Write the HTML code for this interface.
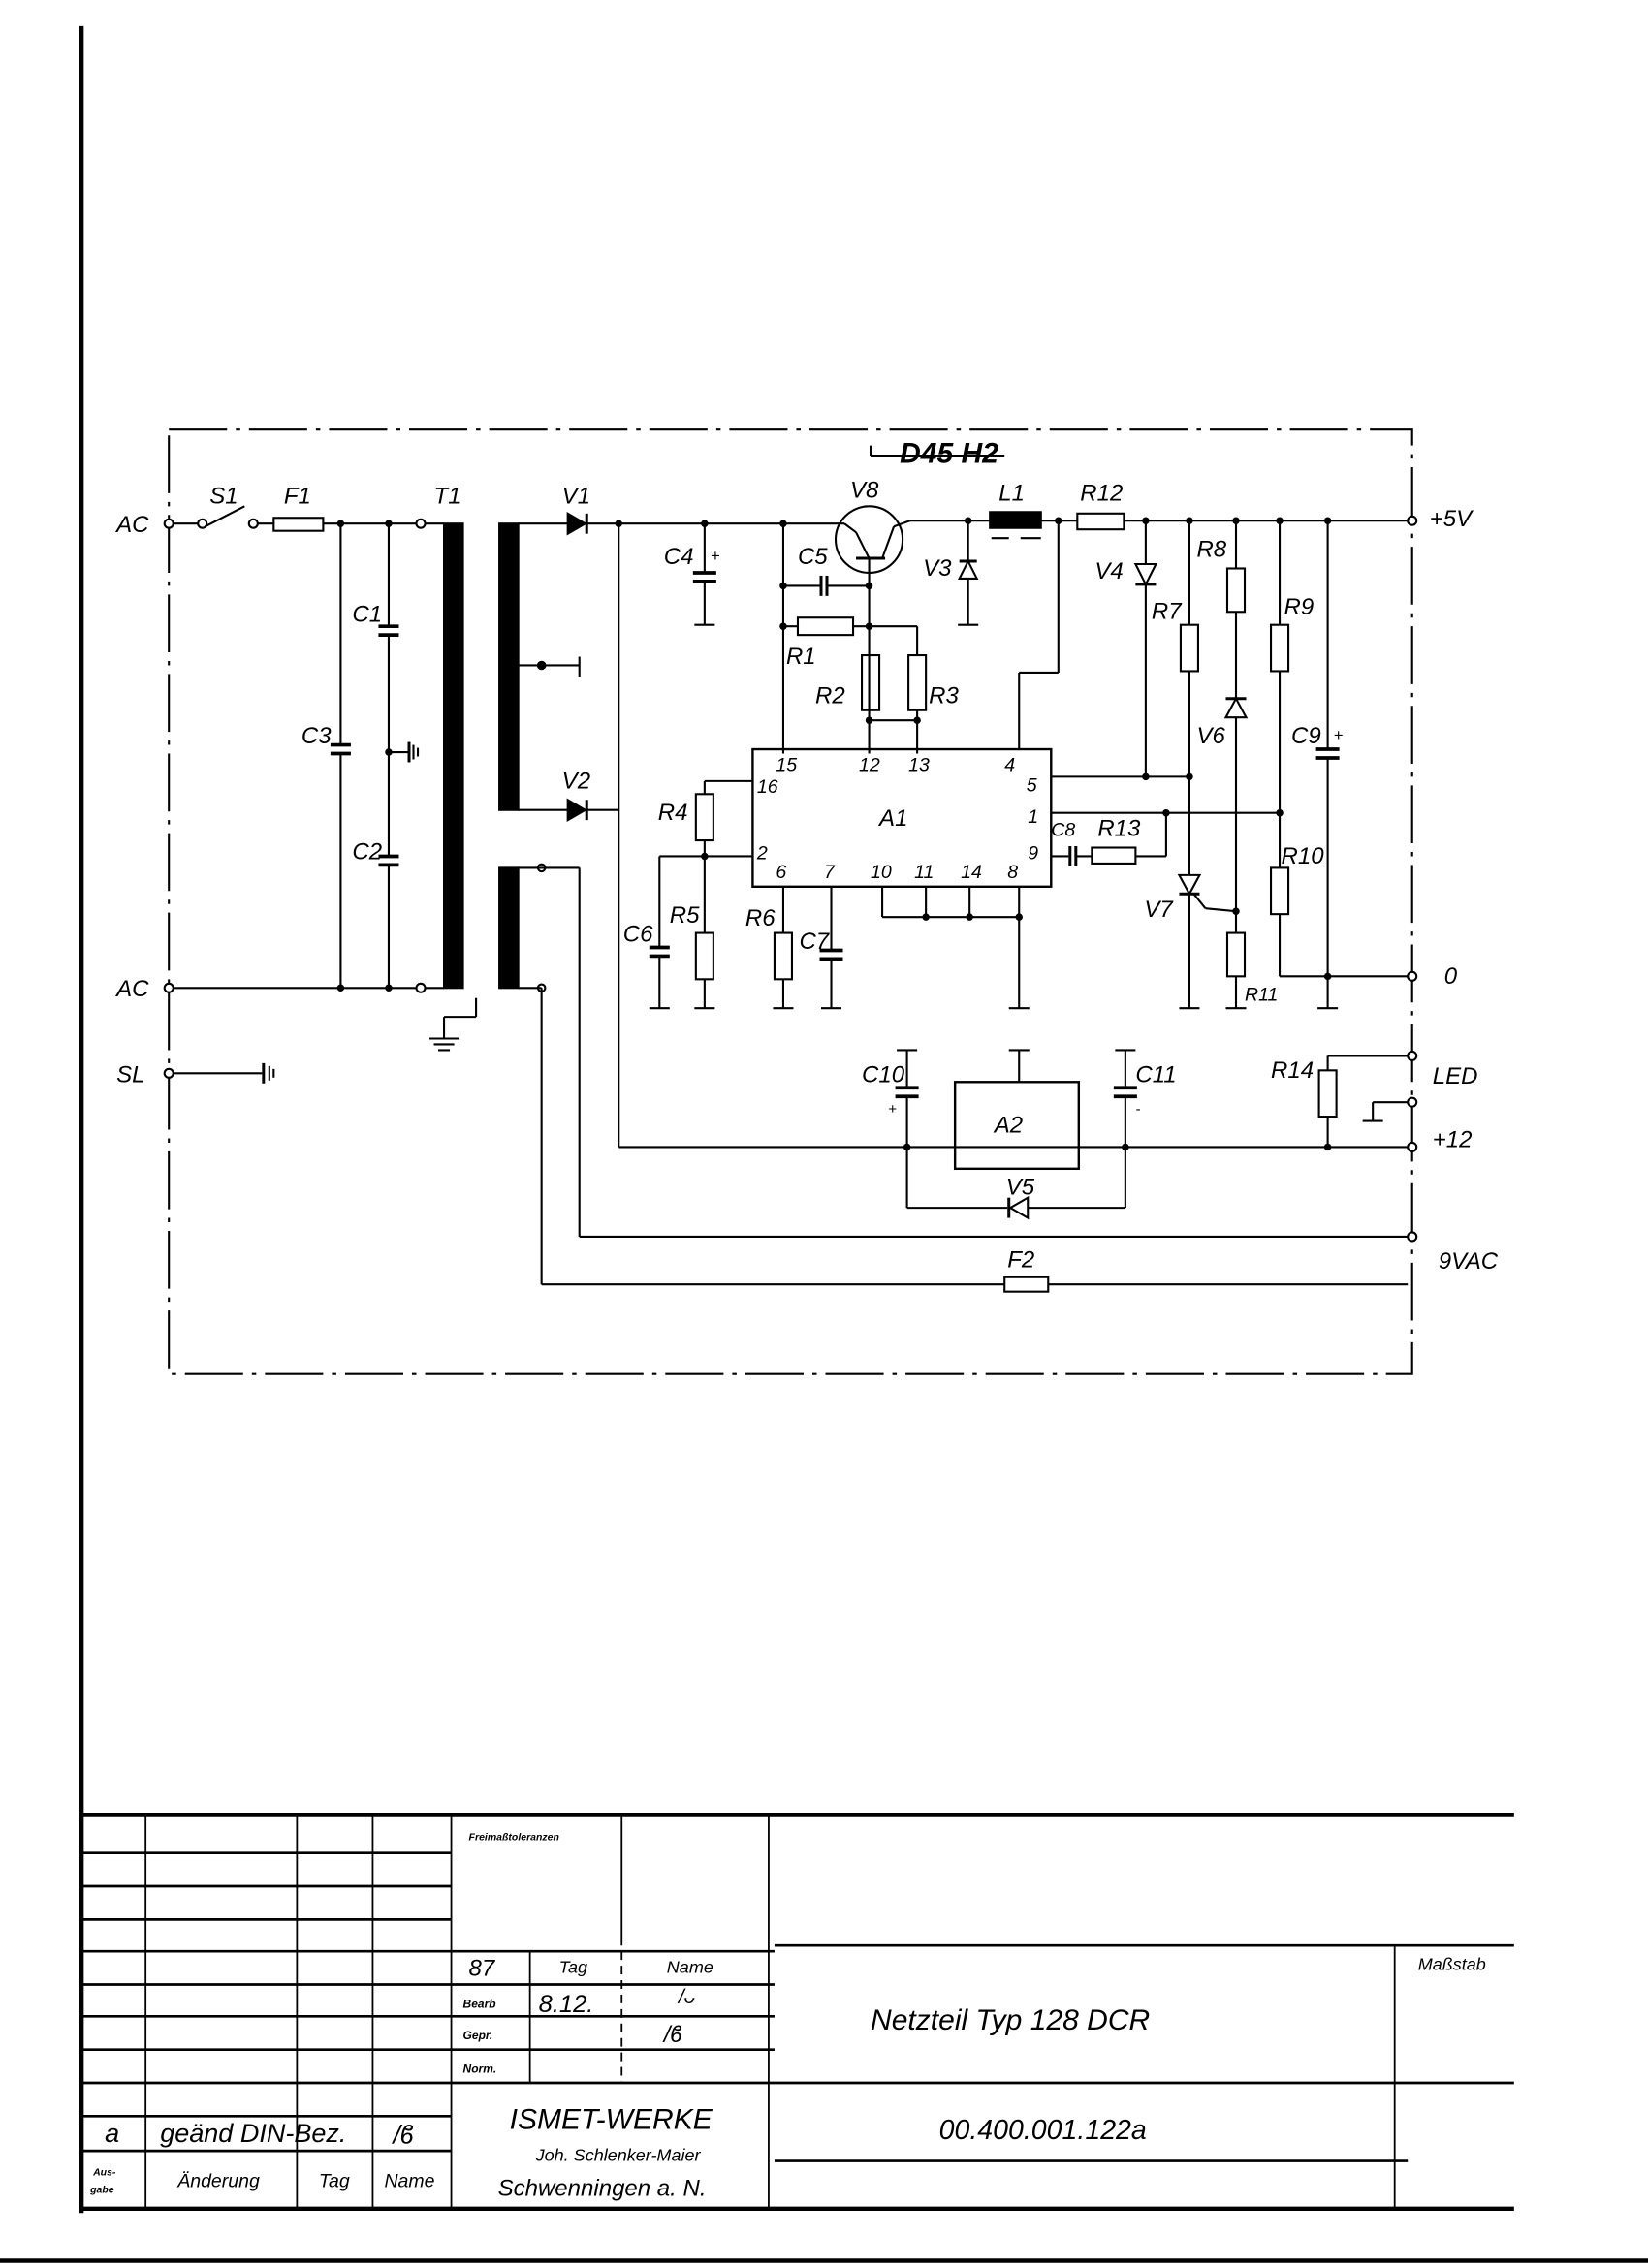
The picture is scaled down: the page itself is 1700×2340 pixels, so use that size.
<!DOCTYPE html>
<html><head><meta charset="utf-8"><style>
html,body{margin:0;padding:0;background:#fff;}
svg{display:block;}
text{font-family:"Liberation Sans",sans-serif;font-style:italic;fill:#000;}
</style></head><body>
<svg width="1700" height="2340" viewBox="0 0 1132 1568" preserveAspectRatio="none" xmlns="http://www.w3.org/2000/svg">
<g stroke="#000" fill="none" stroke-width="1.4">
<!-- frame -->
<line x1="56" y1="18" x2="56" y2="1530" stroke-width="3"/>
<line x1="0" y1="1563" x2="1132" y2="1563" stroke-width="3"/>
<rect x="116" y="297" width="854" height="653" stroke-dasharray="40,6,3,6"/>

<!-- AC input -->
<circle cx="116" cy="362" r="3" fill="#fff"/>
<line x1="119" y1="362" x2="136" y2="362"/>
<circle cx="139" cy="362" r="3" fill="#fff"/>
<line x1="141" y1="364" x2="168" y2="350"/>
<circle cx="174" cy="362" r="3" fill="#fff"/>
<line x1="177" y1="362" x2="188" y2="362"/>
<rect x="188" y="358" width="34" height="9"/>
<line x1="222" y1="362" x2="286" y2="362"/>
<circle cx="289" cy="362" r="3" fill="#fff"/>
<line x1="292" y1="362" x2="305" y2="362"/>
<circle cx="116" cy="683" r="3" fill="#fff"/>
<line x1="119" y1="683" x2="286" y2="683"/>
<circle cx="289" cy="683" r="3" fill="#fff"/>
<line x1="292" y1="683" x2="305" y2="683"/>
<line x1="234" y1="362" x2="234" y2="515"/><line x1="227" y1="515" x2="241" y2="515" stroke-width="2.5"/><line x1="227" y1="521" x2="241" y2="521" stroke-width="2.5"/><line x1="234" y1="521" x2="234" y2="683"/>
<line x1="267" y1="362" x2="267" y2="433"/><line x1="260" y1="433" x2="274" y2="433" stroke-width="2.5"/><line x1="260" y1="439" x2="274" y2="439" stroke-width="2.5"/><line x1="267" y1="439" x2="267" y2="592"/>
<line x1="260" y1="592" x2="274" y2="592" stroke-width="2.5"/><line x1="260" y1="598" x2="274" y2="598" stroke-width="2.5"/><line x1="267" y1="598" x2="267" y2="683"/>
<line x1="267" y1="520" x2="280" y2="520"/><line x1="281" y1="513" x2="281" y2="527" stroke-width="2"/><line x1="284" y1="515" x2="284" y2="525"/><line x1="287" y1="517" x2="287" y2="523"/>
<!-- T1 -->
<rect x="305" y="362" width="13" height="321" fill="#000"/>
<rect x="343" y="362" width="13" height="198" fill="#000"/>
<rect x="343" y="600" width="13" height="83" fill="#000"/>
<line x1="327" y1="690" x2="327" y2="703"/><line x1="327" y1="703" x2="305" y2="703"/><line x1="305" y1="703" x2="305" y2="718"/>
<line x1="295" y1="718" x2="315" y2="718"/><line x1="298" y1="722" x2="312" y2="722"/><line x1="301" y1="726" x2="309" y2="726"/>
<!-- SL -->
<circle cx="116" cy="742" r="3" fill="#fff"/>
<line x1="119" y1="742" x2="180" y2="742"/><line x1="181" y1="735" x2="181" y2="749" stroke-width="2"/><line x1="185" y1="737" x2="185" y2="747"/><line x1="188" y1="739" x2="188" y2="745"/>
<!-- secondary -->
<line x1="356" y1="362" x2="390" y2="362"/>
<polygon points="390,355 390,369 402,362" fill="#000"/><line x1="403" y1="355" x2="403" y2="369" stroke-width="2"/>
<line x1="403" y1="362" x2="580" y2="362"/>
<line x1="356" y1="460" x2="398" y2="460"/><line x1="398" y1="454" x2="398" y2="468"/>
<circle cx="372" cy="460" r="2.5" fill="#000"/>
<line x1="356" y1="560" x2="390" y2="560"/>
<polygon points="390,553 390,567 402,560" fill="#000"/><line x1="403" y1="553" x2="403" y2="567" stroke-width="2"/>
<line x1="403" y1="560" x2="425" y2="560"/>
<line x1="425" y1="362" x2="425" y2="793"/>
<line x1="425" y1="793" x2="967" y2="793"/>
<circle cx="372" cy="600" r="2.5" fill="#fff"/><line x1="356" y1="600" x2="398" y2="600"/><line x1="398" y1="600" x2="398" y2="855"/><line x1="398" y1="855" x2="967" y2="855"/>
<circle cx="372" cy="683" r="2.5" fill="#fff"/><line x1="356" y1="683" x2="372" y2="683"/><line x1="372" y1="683" x2="372" y2="888"/><line x1="372" y1="888" x2="690" y2="888"/>
<rect x="690" y="883" width="30" height="10"/><line x1="720" y1="888" x2="967" y2="888"/>
<!-- C4 -->
<line x1="484" y1="362" x2="484" y2="396"/><line x1="476" y1="396" x2="492" y2="396" stroke-width="2.5"/><line x1="476" y1="402" x2="492" y2="402" stroke-width="2.5"/><line x1="484" y1="402" x2="484" y2="432"/><line x1="477" y1="432" x2="491" y2="432"/>
<!-- V8 -->
<circle cx="597" cy="373" r="23"/>
<line x1="580" y1="362" x2="588" y2="368"/><line x1="588" y1="368" x2="597" y2="386"/><line x1="606" y1="386" x2="614" y2="364"/><line x1="614" y1="364" x2="625" y2="360"/>
<line x1="588" y1="386" x2="608" y2="386" stroke-width="2"/>
<line x1="597" y1="386" x2="597" y2="491"/>
<line x1="625" y1="360" x2="680" y2="360"/>
<line x1="538" y1="362" x2="538" y2="521"/>
<line x1="538" y1="405" x2="563" y2="405"/><line x1="564" y1="398" x2="564" y2="412" stroke-width="2"/><line x1="568" y1="398" x2="568" y2="412" stroke-width="2"/><line x1="568" y1="405" x2="597" y2="405"/>
<rect x="548" y="427" width="38" height="12"/><line x1="538" y1="433" x2="548" y2="433"/><line x1="586" y1="433" x2="630" y2="433"/><line x1="630" y1="433" x2="630" y2="453"/>
<rect x="592" y="453" width="12" height="38"/><rect x="624" y="453" width="12" height="38"/>
<line x1="630" y1="491" x2="630" y2="521"/><line x1="597" y1="498" x2="630" y2="498"/><line x1="597" y1="491" x2="597" y2="521"/>
<!-- V3 -->
<line x1="665" y1="360" x2="665" y2="432"/><polygon points="659,400 671,400 665,388" fill="#fff"/><line x1="659" y1="388" x2="671" y2="388" stroke-width="2"/><line x1="658" y1="432" x2="672" y2="432"/>
<!-- L1 -->
<rect x="680" y="354" width="35" height="11" fill="#000"/><line x1="681" y1="372" x2="693" y2="372"/><line x1="701" y1="372" x2="715" y2="372"/>
<line x1="715" y1="360" x2="740" y2="360"/><rect x="740" y="355" width="32" height="11"/>
<line x1="727" y1="360" x2="727" y2="465"/><line x1="727" y1="465" x2="700" y2="465"/><line x1="700" y1="465" x2="700" y2="518"/>
<line x1="772" y1="360" x2="967" y2="360"/><circle cx="970" cy="360" r="3" fill="#fff"/>
<!-- V4 -->
<line x1="787" y1="360" x2="787" y2="537"/><polygon points="780,390 794,390 787,404" fill="#fff"/><line x1="780" y1="404" x2="794" y2="404" stroke-width="2"/>
<!-- R7 V7 -->
<line x1="817" y1="360" x2="817" y2="432"/><rect x="811" y="432" width="12" height="32"/><line x1="817" y1="464" x2="817" y2="697"/><line x1="810" y1="697" x2="824" y2="697"/>
<polygon points="810,605 824,605 817,618" fill="#fff"/><line x1="810" y1="618" x2="824" y2="618" stroke-width="2"/><line x1="820" y1="618" x2="828" y2="628"/><line x1="828" y1="628" x2="849" y2="630"/>
<!-- R8 V6 R11 -->
<line x1="849" y1="360" x2="849" y2="393"/><rect x="843" y="393" width="12" height="30"/><line x1="849" y1="423" x2="849" y2="645"/>
<polygon points="842,496 856,496 849,483" fill="#fff"/><line x1="842" y1="483" x2="856" y2="483" stroke-width="2"/>
<rect x="843" y="645" width="12" height="30"/><line x1="849" y1="675" x2="849" y2="697"/><line x1="842" y1="697" x2="856" y2="697"/>
<!-- R9 R10 -->
<line x1="879" y1="360" x2="879" y2="432"/><rect x="873" y="432" width="12" height="32"/><line x1="879" y1="464" x2="879" y2="600"/><rect x="873" y="600" width="12" height="32"/><line x1="879" y1="632" x2="879" y2="675"/><line x1="879" y1="675" x2="967" y2="675"/><circle cx="970" cy="675" r="3" fill="#fff"/>
<!-- C9 -->
<line x1="912" y1="360" x2="912" y2="518"/><line x1="904" y1="518" x2="920" y2="518" stroke-width="2.5"/><line x1="904" y1="524" x2="920" y2="524" stroke-width="2.5"/><line x1="912" y1="524" x2="912" y2="697"/><line x1="905" y1="697" x2="919" y2="697"/>
<!-- A1 -->
<rect x="517" y="518" width="205" height="95" stroke-width="1.6"/>
<line x1="722" y1="537" x2="817" y2="537"/>
<line x1="722" y1="562" x2="879" y2="562"/>
<line x1="801" y1="562" x2="801" y2="592"/><line x1="801" y1="592" x2="780" y2="592"/><rect x="750" y="586" width="30" height="11"/>
<line x1="722" y1="592" x2="734" y2="592"/><line x1="735" y1="585" x2="735" y2="599" stroke-width="2"/><line x1="739" y1="585" x2="739" y2="599" stroke-width="2"/><line x1="739" y1="592" x2="750" y2="592"/>
<line x1="484" y1="540" x2="517" y2="540"/><line x1="484" y1="540" x2="484" y2="549"/><rect x="478" y="549" width="12" height="32"/><line x1="484" y1="581" x2="484" y2="645"/>
<line x1="453" y1="592" x2="517" y2="592"/><line x1="453" y1="592" x2="453" y2="655"/><line x1="446" y1="655" x2="460" y2="655" stroke-width="2.5"/><line x1="446" y1="661" x2="460" y2="661" stroke-width="2.5"/><line x1="453" y1="661" x2="453" y2="697"/><line x1="446" y1="697" x2="460" y2="697"/>
<rect x="478" y="645" width="12" height="32"/><line x1="484" y1="677" x2="484" y2="697"/><line x1="477" y1="697" x2="491" y2="697"/>
<line x1="538" y1="613" x2="538" y2="645"/><rect x="532" y="645" width="12" height="32"/><line x1="538" y1="677" x2="538" y2="697"/><line x1="531" y1="697" x2="545" y2="697"/>
<line x1="571" y1="613" x2="571" y2="657"/><line x1="563" y1="657" x2="579" y2="657" stroke-width="2.5"/><line x1="563" y1="663" x2="579" y2="663" stroke-width="2.5"/><line x1="571" y1="663" x2="571" y2="697"/><line x1="564" y1="697" x2="578" y2="697"/>
<line x1="606" y1="613" x2="606" y2="634"/><line x1="606" y1="634" x2="700" y2="634"/><line x1="636" y1="613" x2="636" y2="634"/><line x1="666" y1="613" x2="666" y2="634"/><line x1="700" y1="613" x2="700" y2="697"/><line x1="693" y1="697" x2="707" y2="697"/>
<!-- A2 -->
<rect x="656" y="748" width="85" height="60" stroke-width="1.6"/>
<line x1="700" y1="726" x2="700" y2="748"/><line x1="693" y1="726" x2="707" y2="726"/>
<line x1="623" y1="726" x2="623" y2="752"/><line x1="616" y1="726" x2="630" y2="726"/><line x1="615" y1="752" x2="631" y2="752" stroke-width="2.5"/><line x1="615" y1="758" x2="631" y2="758" stroke-width="2.5"/><line x1="623" y1="758" x2="623" y2="835"/>
<line x1="773" y1="726" x2="773" y2="752"/><line x1="766" y1="726" x2="780" y2="726"/><line x1="765" y1="752" x2="781" y2="752" stroke-width="2.5"/><line x1="765" y1="758" x2="781" y2="758" stroke-width="2.5"/><line x1="773" y1="758" x2="773" y2="835"/>
<line x1="623" y1="835" x2="692" y2="835"/><polygon points="706,828 706,842 694,835" fill="#fff"/><line x1="693" y1="828" x2="693" y2="842" stroke-width="2"/><line x1="706" y1="835" x2="773" y2="835"/>
<!-- R14 LED -->
<line x1="912" y1="730" x2="967" y2="730"/><circle cx="970" cy="730" r="3" fill="#fff"/><line x1="912" y1="730" x2="912" y2="740"/><rect x="906" y="740" width="12" height="32"/><line x1="912" y1="772" x2="912" y2="793"/>
<line x1="967" y1="762" x2="943" y2="762"/><line x1="943" y1="762" x2="943" y2="775"/><line x1="936" y1="775" x2="950" y2="775"/><circle cx="970" cy="762" r="3" fill="#fff"/>
<circle cx="970" cy="793" r="3" fill="#fff"/><circle cx="970" cy="855" r="3" fill="#fff"/>
<line x1="598" y1="315" x2="690" y2="315"/><line x1="598" y1="308" x2="598" y2="315"/>
</g>
<g fill="#000">
<circle cx="234" cy="362" r="2.5"/><circle cx="267" cy="362" r="2.5"/><circle cx="234" cy="683" r="2.5"/><circle cx="267" cy="683" r="2.5"/><circle cx="267" cy="520" r="2.5"/>
<circle cx="425" cy="362" r="2.5"/><circle cx="484" cy="362" r="2.5"/><circle cx="538" cy="362" r="2.5"/><circle cx="538" cy="405" r="2.5"/><circle cx="597" cy="405" r="2.5"/><circle cx="538" cy="433" r="2.5"/><circle cx="597" cy="433" r="2.5"/><circle cx="597" cy="498" r="2.5"/><circle cx="630" cy="498" r="2.5"/>
<circle cx="665" cy="360" r="2.5"/><circle cx="727" cy="360" r="2.5"/><circle cx="787" cy="360" r="2.5"/><circle cx="817" cy="360" r="2.5"/><circle cx="849" cy="360" r="2.5"/><circle cx="879" cy="360" r="2.5"/><circle cx="912" cy="360" r="2.5"/>
<circle cx="787" cy="537" r="2.5"/><circle cx="817" cy="537" r="2.5"/><circle cx="801" cy="562" r="2.5"/><circle cx="879" cy="562" r="2.5"/><circle cx="849" cy="630" r="2.5"/><circle cx="912" cy="675" r="2.5"/>
<circle cx="484" cy="592" r="2.5"/><circle cx="636" cy="634" r="2.5"/><circle cx="666" cy="634" r="2.5"/><circle cx="700" cy="634" r="2.5"/>
<circle cx="623" cy="793" r="2.5"/><circle cx="773" cy="793" r="2.5"/><circle cx="912" cy="793" r="2.5"/>
</g>
<g font-size="16">
<text x="80" y="368">AC</text><text x="80" y="689">AC</text><text x="80" y="748">SL</text>
<text x="144" y="348">S1</text><text x="195" y="348">F1</text><text x="298" y="348">T1</text>
<text x="242" y="430">C1</text><text x="207" y="514">C3</text><text x="242" y="594">C2</text>
<text x="386" y="348">V1</text><text x="386" y="545">V2</text>
<text x="456" y="390">C4</text><text x="488" y="388" font-size="11">+</text>
<text x="548" y="390">C5</text><text x="584" y="344">V8</text>
<text x="618" y="320" font-size="20" font-weight="bold">D45 H2</text>
<text x="686" y="346">L1</text><text x="742" y="346">R12</text>
<text x="634" y="398">V3</text><text x="752" y="400">V4</text><text x="822" y="385">R8</text><text x="791" y="428">R7</text><text x="882" y="425">R9</text>
<text x="822" y="514">V6</text><text x="887" y="514">C9</text><text x="916" y="512" font-size="11">+</text>
<text x="540" y="459">R1</text><text x="560" y="486">R2</text><text x="638" y="486">R3</text>
<text x="880" y="597">R10</text><text x="786" y="634">V7</text><text x="855" y="692" font-size="13">R11</text>
<text x="452" y="567">R4</text><text x="428" y="651">C6</text><text x="460" y="638">R5</text><text x="512" y="640">R6</text><text x="549" y="656">C7</text>
<text x="722" y="578" font-size="13">C8</text><text x="754" y="578">R13</text>
<text x="604" y="571">A1</text><text x="683" y="783">A2</text>
<g font-size="13"><text x="533" y="533">15</text><text x="520" y="548">16</text><text x="590" y="533">12</text><text x="624" y="533">13</text><text x="690" y="533">4</text><text x="705" y="547">5</text><text x="706" y="569">1</text><text x="706" y="594">9</text><text x="520" y="594">2</text><text x="533" y="607">6</text><text x="566" y="607">7</text><text x="598" y="607">10</text><text x="628" y="607">11</text><text x="660" y="607">14</text><text x="692" y="607">8</text></g>
<text x="592" y="748">C10</text><text x="780" y="748">C11</text><text x="610" y="770" font-size="10">+</text><text x="780" y="770" font-size="10">-</text>
<text x="691" y="826">V5</text><text x="692" y="876">F2</text>
<text x="873" y="745">R14</text><text x="984" y="749">LED</text><text x="984" y="793">+12</text><text x="988" y="877">9VAC</text><text x="992" y="680">0</text><text x="982" y="364">+5V</text>
</g>
<!-- title block -->
<g stroke="#000" fill="none">
<line x1="56" y1="1255" x2="1040" y2="1255" stroke-width="2.5"/>
<line x1="56" y1="1527" x2="1040" y2="1527" stroke-width="3"/>
<g stroke-width="1.8">
<line x1="56" y1="1281" x2="310" y2="1281"/><line x1="56" y1="1304" x2="310" y2="1304"/><line x1="56" y1="1327" x2="310" y2="1327"/><line x1="56" y1="1349" x2="532" y2="1349"/>
<line x1="56" y1="1372" x2="532" y2="1372"/><line x1="56" y1="1394" x2="532" y2="1394"/><line x1="56" y1="1417" x2="532" y2="1417"/><line x1="56" y1="1440" x2="1040" y2="1440"/>
<line x1="56" y1="1463" x2="310" y2="1463"/><line x1="56" y1="1487" x2="310" y2="1487"/>
<line x1="532" y1="1345" x2="1040" y2="1345"/><line x1="532" y1="1494" x2="967" y2="1494"/>
</g>
<g stroke-width="1.2">
<line x1="100" y1="1255" x2="100" y2="1527"/><line x1="204" y1="1255" x2="204" y2="1527"/><line x1="256" y1="1255" x2="256" y2="1527"/><line x1="310" y1="1255" x2="310" y2="1527"/>
<line x1="427" y1="1255" x2="427" y2="1345"/><line x1="364" y1="1349" x2="364" y2="1440"/><line x1="427" y1="1349" x2="427" y2="1440" stroke-dasharray="6,4"/>
<line x1="528" y1="1255" x2="528" y2="1527"/><line x1="958" y1="1345" x2="958" y2="1527"/>
</g>
</g>
<g>
<text x="322" y="1272" font-size="7" font-weight="bold">Freimaßtoleranzen</text>
<text x="322" y="1366" font-size="16">87</text><text x="384" y="1364" font-size="12">Tag</text><text x="458" y="1364" font-size="12">Name</text>
<text x="318" y="1388" font-size="8" font-weight="bold">Bearb</text><text x="370" y="1391" font-size="17">8.12.</text><text x="466" y="1385" font-size="14">/ᴗ</text>
<text x="318" y="1410" font-size="8" font-weight="bold">Gepr.</text><text x="456" y="1412" font-size="16">/ϐ</text>
<text x="318" y="1433" font-size="8" font-weight="bold">Norm.</text>
<text x="974" y="1362" font-size="12">Maßstab</text>
<text x="598" y="1403" font-size="20">Netzteil  Typ  128  DCR</text>
<text x="645" y="1479" font-size="19">00.400.001.122a</text>
<text x="350" y="1472" font-size="20">ISMET-WERKE</text>
<text x="368" y="1494" font-size="12">Joh. Schlenker-Maier</text>
<text x="342" y="1518" font-size="16">Schwenningen a. N.</text>
<text x="72" y="1481" font-size="18">a</text><text x="110" y="1481" font-size="18">geänd DIN-Bez.</text><text x="270" y="1482" font-size="18">/ϐ</text>
<text x="64" y="1504" font-size="7" font-weight="bold">Aus-</text><text x="62" y="1516" font-size="7" font-weight="bold">gabe</text>
<text x="122" y="1512" font-size="13">Änderung</text><text x="219" y="1512" font-size="13">Tag</text><text x="264" y="1512" font-size="13">Name</text>
</g>
</svg>
</body></html>
